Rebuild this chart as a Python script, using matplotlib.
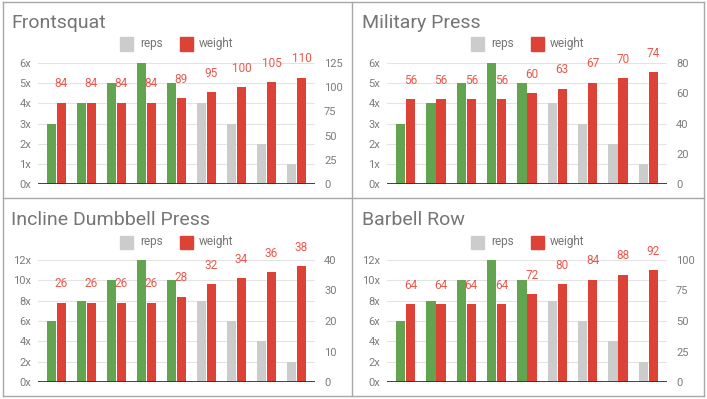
import matplotlib
matplotlib.use("Agg")
import matplotlib.pyplot as plt
from matplotlib.patches import Rectangle
from matplotlib.lines import Line2D
import numpy as np

plt.rcParams['font.family'] = ['Roboto', 'DejaVu Sans']

titles = ["Frontsquat", "Military Press", "Incline Dumbbell Press", "Barbell Row"]
reps_frontsquat = [3, 4, 5, 6, 5, 4, 3, 2, 1]
weight_frontsquat = [84, 84, 84, 84, 89, 95, 100, 105, 110]
reps_military = [3, 4, 5, 6, 5, 4, 3, 2, 1]
weight_military = [56, 56, 56, 56, 60, 63, 67, 70, 74]
reps_incline = [6, 8, 10, 12, 10, 8, 6, 4, 2]
weight_incline = [26, 26, 26, 26, 28, 32, 34, 36, 38]
reps_row = [6, 8, 10, 12, 10, 8, 6, 4, 2]
weight_row = [64, 64, 64, 64, 72, 80, 84, 88, 92]
completed_sets = 5
reps_ticks_small = [0, 1, 2, 3, 4, 5, 6]
reps_ticks_large = [0, 2, 4, 6, 8, 10, 12]
weight_ticks = [
    [0, 25, 50, 75, 100, 125],
    [0, 20, 40, 60, 80],
    [0, 10, 20, 30, 40],
    [0, 25, 50, 75, 100],
]
reps_all = [reps_frontsquat, reps_military, reps_incline, reps_row]
weight_all = [weight_frontsquat, weight_military, weight_incline, weight_row]
reps_tick_all = [reps_ticks_small, reps_ticks_small, reps_ticks_large, reps_ticks_large]

W, H = 707, 399
GREEN = "#62a44f"
GRAY = "#cccccc"
RED = "#dc4236"
LABEL_RED = "#e8594d"
TXT = "#757575"
TICK = "#7c7c7c"
GRID = "#e3e3e3"

fig = plt.figure(figsize=(W / 100, H / 100), dpi=100)
fig.patch.set_facecolor("white")

def fx(px):
    return px / W

def fy(py):
    return 1 - py / H

# panel plot areas in pixels: (x0, ytop, x1, ybot)
areas = [(38, 63, 315, 184), (387, 63, 667, 184), (38, 260, 315, 382), (387, 260, 667, 382)]
title_pos = [(11, 28), (362, 28), (11, 225), (362, 225)]
legend_pos = [(120, 44), (471, 44), (120, 242), (471, 242)]

for k in range(4):
    x0, yt, x1, yb = areas[k]
    ax = fig.add_axes([fx(x0), fy(yb), fx(x1 - x0), (yb - yt) / H])
    ax2 = ax.twinx()
    reps = reps_all[k]
    weight = weight_all[k]
    n = len(reps)
    x = np.arange(n)
    colors = [GREEN if i < completed_sets else GRAY for i in range(n)]
    ax.bar(x - 0.165, reps, width=0.31, color=colors, zorder=3)
    ax2.bar(x + 0.165, weight, width=0.31, color=RED, zorder=3)
    for i in range(n):
        ax2.annotate(str(weight[i]), xy=(x[i] + 0.165, weight[i]), xytext=(0, 13.5),
                     textcoords="offset points", ha="center", va="center",
                     fontsize=8.5, color=LABEL_RED, annotation_clip=False)
    rt = reps_tick_all[k]
    wt = weight_ticks[k]
    ax.set_xlim(-0.617, n - 1 + 0.617)
    ax.set_ylim(rt[0], rt[-1])
    ax2.set_ylim(wt[0], wt[-1])
    ax.set_yticks(rt)
    ax.set_yticklabels([f"{t}x" for t in rt])
    ax2.set_yticks(wt)
    ax2.set_yticklabels([str(t) for t in wt])
    ax.set_xticks([])
    ax.grid(axis="y", color=GRID, linewidth=0.8, zorder=0)
    ax.set_axisbelow(True)
    for a in (ax, ax2):
        for s in a.spines.values():
            s.set_visible(False)
        a.tick_params(axis="y", length=0, labelsize=8, labelcolor=TICK)
        a.patch.set_visible(False)
    ax.tick_params(axis="y", pad=5)
    ax2.tick_params(axis="y", pad=6.5)
    ax2.axhline(0, color="#333333", linewidth=1.3, zorder=5)
    ax.set_zorder(2)
    ax2.set_zorder(3)

    tx, ty = title_pos[k]
    fig.text(fx(tx), fy(ty), titles[k], fontsize=14, color=TXT, va="baseline", ha="left")

    lx, ly = legend_pos[k]
    fig.patches.append(Rectangle((fx(lx), fy(ly + 6.5)), fx(13), 13 / H, color=GRAY,
                                 transform=fig.transFigure, figure=fig))
    fig.text(fx(lx + 20), fy(ly), "reps", fontsize=8.5, color=TXT, va="center", ha="left")
    fig.patches.append(Rectangle((fx(lx + 60), fy(ly + 6.5)), fx(13), 13 / H, color=RED,
                                 transform=fig.transFigure, figure=fig))
    fig.text(fx(lx + 79), fy(ly), "weight", fontsize=8.5, color=TXT, va="center", ha="left")

# panel borders
BC = "#a8a8a8"
for (xa, ya, xb, yb2) in [(3, 2, 704, 2), (3, 396, 704, 396), (3, 2, 3, 396), (704, 2, 704, 396),
                          (352, 2, 352, 396), (3, 198, 704, 198)]:
    fig.add_artist(Line2D([fx(xa), fx(xb)], [fy(ya), fy(yb2)], color=BC, linewidth=1.0,
                          transform=fig.transFigure))

fig.savefig("out.png", dpi=100)
